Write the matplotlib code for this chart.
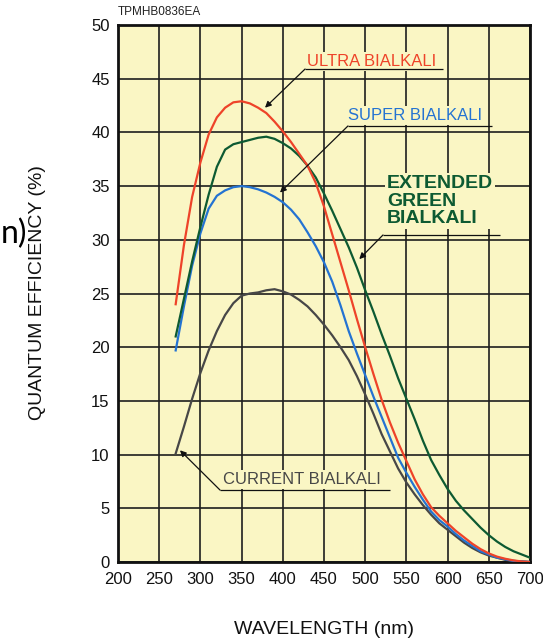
import matplotlib
matplotlib.use("Agg")
import matplotlib.pyplot as plt

# Spectral response of bialkali photocathodes (quantum efficiency, %)
wavelength_nm = [270, 280, 290, 300, 310, 320, 330, 340, 350, 360, 370, 380, 390,
                 400, 410, 420, 430, 440, 450, 460, 470, 480, 490, 500, 510, 520,
                 530, 540, 550, 560, 570, 580, 590, 600, 610, 620, 630, 640, 650,
                 660, 670, 680, 690, 700]

ultra_bialkali = [24.0, 29.5, 34.0, 37.2, 39.8, 41.4, 42.3, 42.8, 42.9, 42.7, 42.3,
                  41.8, 41.0, 40.1, 39.1, 38.0, 36.9, 35.3, 33.1, 30.5, 27.9, 25.3,
                  22.6, 20.0, 17.5, 15.1, 13.0, 11.1, 9.4, 7.7, 6.3, 5.1, 4.3, 3.6,
                  2.9, 2.3, 1.7, 1.2, 0.8, 0.5, 0.3, 0.15, 0.05, 0.0]

super_bialkali = [19.7, 23.8, 27.6, 30.6, 32.9, 34.1, 34.6, 34.9, 35.0, 34.9, 34.7,
                  34.4, 34.0, 33.5, 32.8, 31.9, 30.7, 29.4, 27.9, 26.1, 23.9, 21.5,
                  19.4, 17.4, 15.4, 13.5, 11.6, 9.7, 8.3, 7.0, 5.8, 4.7, 3.9, 3.3,
                  2.6, 2.0, 1.5, 1.0, 0.7, 0.4, 0.25, 0.1, 0.05, 0.0]

extended_green_bialkali = [21.0, 24.5, 28.0, 31.2, 34.2, 36.8, 38.4, 38.9, 39.1, 39.3,
                           39.5, 39.6, 39.4, 39.0, 38.5, 37.8, 36.9, 35.8, 34.3, 32.7,
                           31.0, 29.3, 27.4, 25.3, 23.3, 21.2, 19.2, 17.1, 15.2, 13.3,
                           11.3, 9.5, 8.1, 6.8, 5.7, 4.8, 4.0, 3.2, 2.5, 1.9, 1.4,
                           1.0, 0.7, 0.4]

current_bialkali = [10.1, 12.6, 15.2, 17.6, 19.7, 21.5, 23.0, 24.1, 24.8, 25.0, 25.1,
                    25.3, 25.4, 25.2, 24.9, 24.4, 23.8, 23.0, 22.1, 21.1, 20.0, 18.8,
                    17.3, 15.6, 13.8, 11.9, 10.3, 8.7, 7.4, 6.3, 5.3, 4.4, 3.6, 3.0,
                    2.4, 1.8, 1.3, 0.9, 0.6, 0.4, 0.2, 0.1, 0.05, 0.0]

x_ticks = [200, 250, 300, 350, 400, 450, 500, 550, 600, 650, 700]
y_ticks = [0, 5, 10, 15, 20, 25, 30, 35, 40, 45, 50]

BG = "#FAF6C4"
RED = "#EE4329"
BLUE = "#2473D2"
GREEN = "#0D5A32"
GRAY = "#474747"
FONT = "Liberation Sans"

plt.rcParams["font.family"] = [FONT, "DejaVu Sans"]

fig = plt.figure(figsize=(5.43, 6.40), dpi=100)
fig.patch.set_facecolor("white")
ax = fig.add_axes([118 / 543, 78 / 640, 412 / 543, 537 / 640])
ax.set_facecolor(BG)

ax.set_xlim(200, 700)
ax.set_ylim(0, 50)
ax.set_xticks(x_ticks)
ax.set_yticks(y_ticks)
ax.set_xticklabels([str(v) for v in x_ticks])
ax.set_yticklabels([str(v) for v in y_ticks])
ax.tick_params(length=0, labelsize=12, colors="#111111", pad=6)
ax.tick_params(axis="x", pad=7)
ax.set_axisbelow(True)
ax.grid(True, color="#1e1e1e", linewidth=1.2)
for s in ax.spines.values():
    s.set_linewidth(2.0)
    s.set_color("#111111")

lw = 1.6
ax.plot(wavelength_nm, current_bialkali, color=GRAY, lw=lw, zorder=4)
ax.plot(wavelength_nm, super_bialkali, color=BLUE, lw=lw, zorder=5)
ax.plot(wavelength_nm, ultra_bialkali, color=RED, lw=lw, zorder=6)
ax.plot(wavelength_nm, extended_green_bialkali, color=GREEN, lw=lw, zorder=5)

box = dict(facecolor=BG, edgecolor="none", pad=1.5)
arrow = dict(arrowstyle="-|>", color="#111111", lw=0.9, mutation_scale=9,
             shrinkA=0, shrinkB=0)


def callout(text, xy_text, tip, line_end, color, **kw):
    ax.text(xy_text[0], xy_text[1], text, color=color, ha="left", va="center",
            bbox=box, zorder=7, **kw)
    ax.plot([line_end[0], line_end[1]], [line_end[2], line_end[2]],
            color="#111111", lw=0.9, zorder=7, solid_capstyle="butt")
    ax.annotate("", xy=tip, xytext=(line_end[0], line_end[2]),
                arrowprops=arrow, zorder=7)


callout("ULTRA BIALKALI", (429.5, 46.6), (378.4, 42.3), (427.0, 594.4, 45.9),
        RED, fontsize=12)
callout("SUPER BIALKALI", (479.5, 41.6), (396.6, 34.4), (479.1, 653.9, 40.6),
        BLUE, fontsize=12)
callout("EXTENDED\nGREEN\nBIALKALI", (526.5, 33.6), (492.8, 28.2),
        (521.6, 663.6, 30.45), GREEN, fontsize=14, fontweight="bold",
        linespacing=1.05)
callout("CURRENT BIALKALI", (327.4, 7.65), (275.2, 10.4), (323.8, 530.1, 6.7),
        GRAY, fontsize=12)

fig.text(118 / 543, 1 - 12 / 640, "TPMHB0836EA", fontsize=8.5, ha="left",
         va="center", color="#222222")
fig.text(38 / 543, 1 - 293 / 640, "QUANTUM EFFICIENCY (%)", rotation=90,
         fontsize=14, ha="center", va="center", color="#111111")
fig.text(324 / 543, 1 - 630 / 640, "WAVELENGTH (nm)", fontsize=14,
         ha="center", va="center", color="#111111")
fig.text(0.5 / 543, 1 - 243 / 640, "n)", fontsize=23, ha="left",
         va="baseline", color="black", family=["Lato", "DejaVu Sans"])

fig.savefig("out.png", dpi=100, facecolor="white")
